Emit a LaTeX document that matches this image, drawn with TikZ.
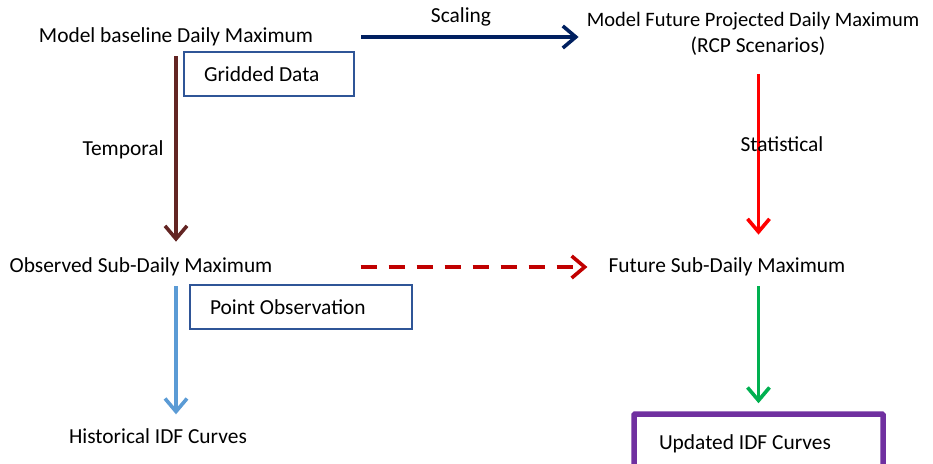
\documentclass[tikz,border=0pt]{standalone}
\usepackage{fontspec}
\setmainfont{Carlito}
\usetikzlibrary{arrows.meta}
\definecolor{navyarrow}{HTML}{002060}
\definecolor{brownarrow}{HTML}{632523}
\definecolor{darkred}{HTML}{C00000}
\definecolor{skyarrow}{HTML}{5B9BD5}
\definecolor{greenarrow}{HTML}{00B050}
\definecolor{purplebox}{HTML}{7030A0}
\definecolor{boxline}{HTML}{2F5597}
\begin{document}
\begin{tikzpicture}[x=1pt, y=-1pt,
  lbl/.style={inner sep=0pt, font=\fontsize{21.4}{26}\selectfont},
  databox/.style={lbl, draw=boxline, line width=1.8pt, align=flush left, minimum height=44pt, inner xsep=20pt},
  flow/.style={line width=3.6pt, -{Straight Barb[length=13pt, width=22pt]}}]
\useasboundingbox (0,0) rectangle (933,463);
\node[lbl] (base) at (176,37){Model baseline Daily Maximum};
\node[lbl] (scal) at (461,17){Scaling};
\node[lbl, align=flush center] (future) at (753,34){{\fontsize{20.5}{26}\selectfont Model Future Projected Daily Maximum}\\\hspace*{10pt}(RCP Scenarios)};
\node[databox, text width=130pt] (grid) at (269,74){Gridded Data};
\node[lbl] (temp) at (123,150){Temporal};
\node[lbl] (obs) at (141,267){Observed Sub-Daily Maximum};
\node[lbl] (fsub) at (727,267){Future Sub-Daily Maximum};
\node[databox, text width=182pt] (point) at (301,307){Point Observation};
\node[lbl] (hist) at (158,436){Historical IDF Curves};
\node[lbl, draw=purplebox, line width=5.5pt, rounded corners=1pt, align=flush left, text width=199pt, inner xsep=25pt, minimum height=60pt] (upd) at (758.5,444){Updated IDF Curves};
\draw[flow, navyarrow, shorten <=48pt, shorten >=8pt](base.east) -- (base.east -| future.west);
\draw[flow, brownarrow, shorten <=10pt, shorten >=16pt](base.south) -- (base.south |- obs.north);
\draw[flow, skyarrow, shorten <=10pt, shorten >=14pt](base.south |- obs.south) -- (base.south |- hist.north);
\draw[flow, darkred, dash pattern=on 16pt off 12pt, shorten <=88pt, shorten >=21pt](obs.east) -- (obs.east -| fsub.west);
\draw[flow, red, shorten <=18pt, shorten >=23pt](upd.north |- future.south) -- (upd.north |- fsub.north);
\node[lbl] (stat) at (782,144){Statistical};
\draw[flow, greenarrow, shorten <=10pt, shorten >=8pt](upd.north |- fsub.south) -- (upd.north);
\end{tikzpicture}
\end{document}
